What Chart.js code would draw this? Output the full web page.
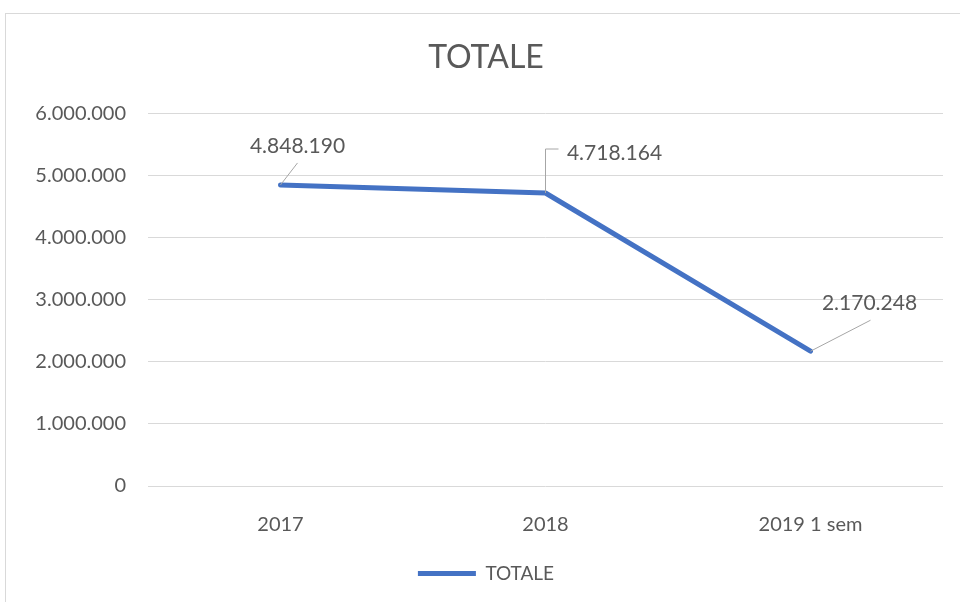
<!DOCTYPE html>
<html>
<head>
<meta charset="utf-8">
<script src="https://cdn.jsdelivr.net/npm/chart.js@4"></script>
<style>
  html, body { margin: 0; padding: 0; background: #fff; }
  #frame { position: absolute; left: 5px; top: 13px; width: 1000px; height: 650px; border: 1px solid #d9d9d9; }
  #wrap { position: absolute; left: 0; top: 0; width: 960px; height: 602px; }
</style>
</head>
<body>
<div id="frame"></div>
<div id="wrap"><canvas id="chart" width="960" height="602"></canvas></div>
<script>
const categories = ["2017", "2018", "2019 1 sem"];
const totale = [4848190, 4718164, 2170248];
const yTicks = [0, 1000000, 2000000, 3000000, 4000000, 5000000, 6000000];

// label offsets from the point: [label cx, label cy, leader path...]
const labelStyle = [
    { dx: 17, dy: -39, leader: [[0, 0], [17, -22]] },
    { dx: 69, dy: -40, leader: [[0, 0], [0, -44], [13, -44]] },
    { dx: 59, dy: -48, leader: [[0, 0], [60, -31]] }
];

const fmt = v => String(Math.round(v)).replace(/\B(?=(\d{3})+(?!\d))/g, ".");
const FONT = "Lato, 'Liberation Sans', sans-serif";
const TXT = "#595959";

const leaderLabels = {
    id: "leaderLabels",
    afterDatasetsDraw(chart) {
        const ctx = chart.ctx;
        const meta = chart.getDatasetMeta(0);
        ctx.save();
        meta.data.forEach((pt, i) => {
            const st = labelStyle[i];
            ctx.strokeStyle = "#a6a6a6";
            ctx.lineWidth = 1;
            ctx.beginPath();
            st.leader.forEach(([x, y], j) => {
                if (j === 0) ctx.moveTo(pt.x + x, pt.y + y); else ctx.lineTo(pt.x + x, pt.y + y);
            });
            ctx.stroke();
            ctx.fillStyle = TXT;
            ctx.font = "21px " + FONT;
            ctx.textAlign = "center";
            ctx.textBaseline = "middle";
            ctx.fillText(fmt(totale[i]), pt.x + st.dx, pt.y + st.dy);
        });
        ctx.restore();
    }
};

new Chart(document.getElementById("chart"), {
    type: "line",
    data: {
        labels: categories,
        datasets: [{
            label: "TOTALE", data: totale, borderColor: "#4472C4", backgroundColor: "#4472C4",
            borderWidth: 5, borderCapStyle: "round", borderJoinStyle: "round",
            pointRadius: 0, tension: 0, fill: false
        }]
    },
    options: {
        responsive: false, animation: false,
        layout: { padding: { left: 29, right: 17, top: 0, bottom: 9 } },
        plugins: {
            title: { display: true, text: "TOTALE", color: TXT, font: { family: FONT, size: 32, weight: "normal" }, padding: { top: 38, bottom: 37 } },
            legend: {
                position: "bottom",
                labels: { color: TXT, font: { family: FONT, size: 19 }, usePointStyle: true, pointStyle: "line", pointStyleWidth: 58, padding: 8 }
            },
            tooltip: { enabled: false }
        },
        scales: {
            x: {
                offset: true,
                grid: { display: false, offset: true }, border: { display: false },
                ticks: { color: TXT, font: { family: FONT, size: 20 }, padding: 19 }
            },
            y: {
                min: 0, max: 6000000,
                afterFit: s => { s.width = 119; },
                afterBuildTicks: s => { s.ticks = yTicks.map(v => ({ value: v })); },
                grid: { color: "#d9d9d9", lineWidth: 1, drawTicks: false }, border: { display: false },
                ticks: { color: TXT, font: { family: FONT, size: 20 }, padding: 22, callback: v => fmt(v) }
            }
        }
    },
    plugins: [leaderLabels]
});
</script>
</body>
</html>
